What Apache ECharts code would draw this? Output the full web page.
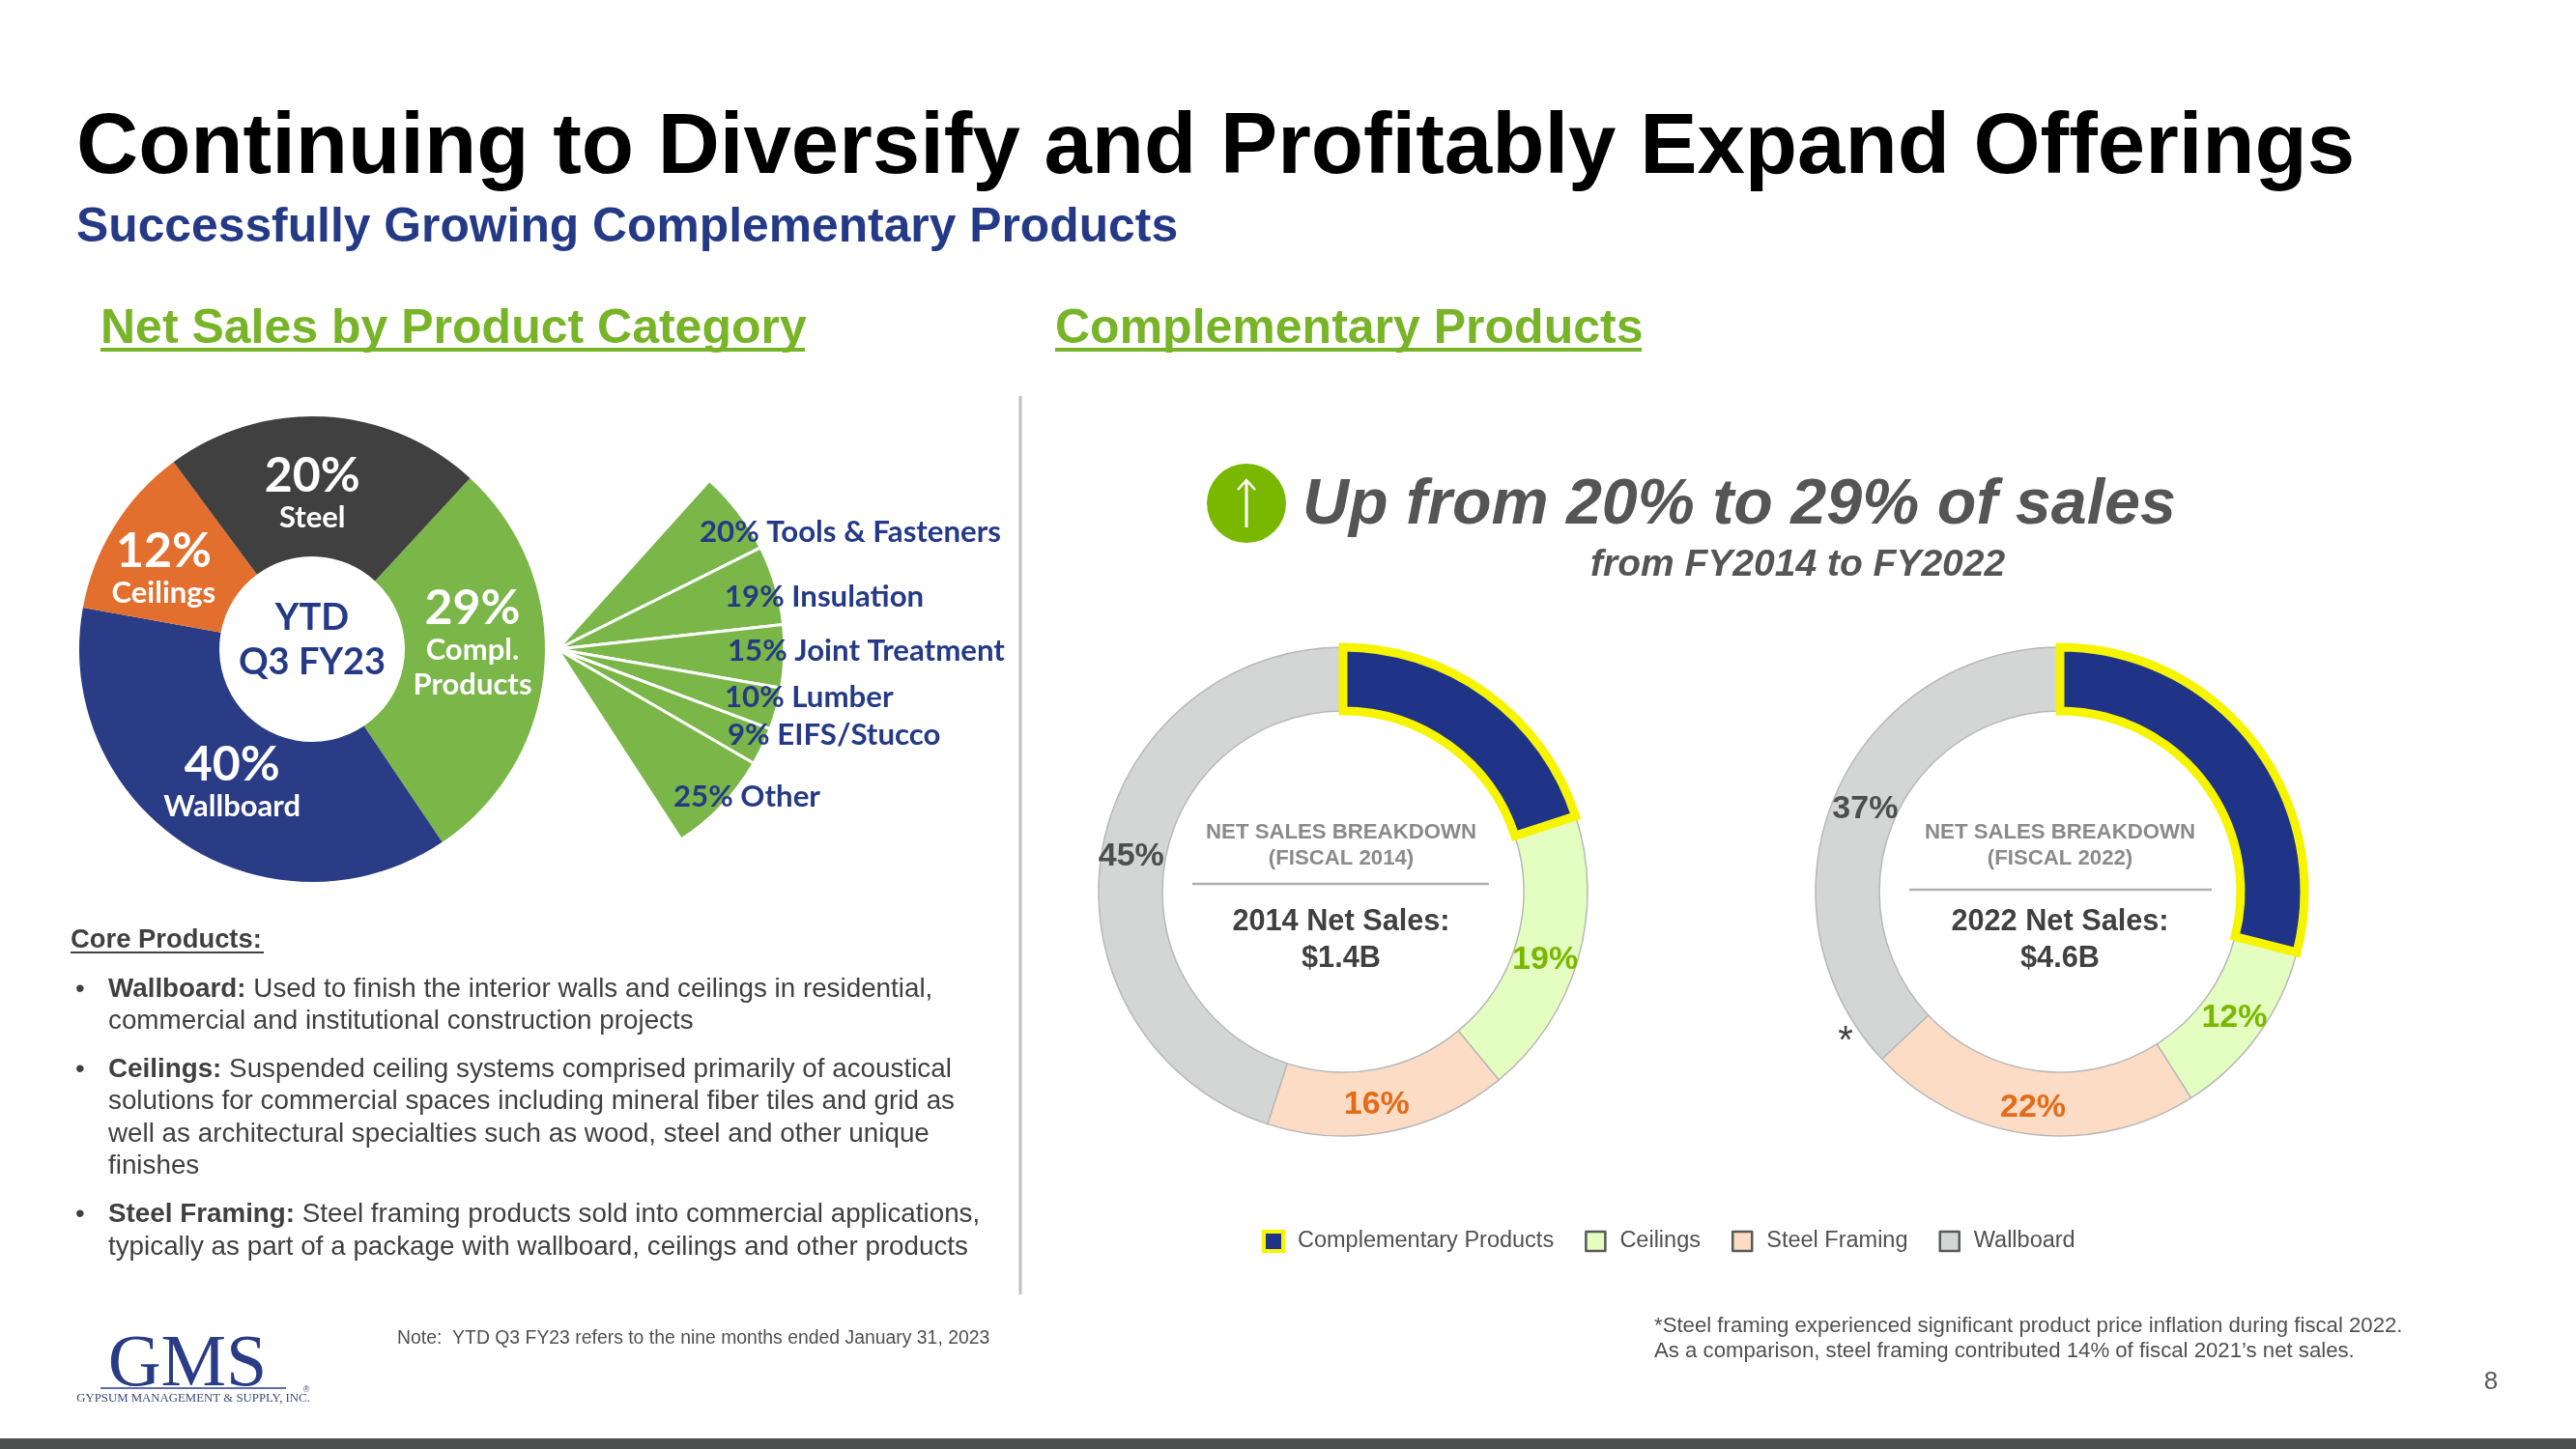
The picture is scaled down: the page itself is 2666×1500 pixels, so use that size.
<!DOCTYPE html>
<html><head><meta charset="utf-8">
<style>html,body{margin:0;padding:0;background:#fff}#c{width:2666px;height:1500px}</style>
<script src="https://cdn.jsdelivr.net/npm/echarts@6/dist/echarts.min.js"></script>
</head><body><div id="c"></div>
<script>
const categoryNames = ['Compl. Products', 'Wallboard', 'Ceilings', 'Steel'];
const categoryDrawnShare = [28.7, 37.3, 12, 22];
const categoryPrinted = ['29%', '40%', '12%', '20%'];
const categoryCaption = ['Compl.\nProducts', 'Wallboard', 'Ceilings', 'Steel'];
const categoryColors = ['#7ab648', '#2a3c85', '#e36f2f', '#404040'];

// Fan breakdown of complementary products
const complNames = ['Tools & Fasteners', 'Insulation', 'Joint Treatment', 'Lumber', 'EIFS/Stucco', 'Other'];
const complValues = [20, 19, 15, 10, 9, 25];

// Donuts: order puts Complementary last so its border paints on top
const donutNames = ['Ceilings', 'Steel Framing', 'Wallboard', 'Complementary Products'];
const fy2014 = [19, 16, 45, 20];
const fy2022 = [12, 22, 37, 29];
const donutColors = ['#e4fdc0', '#fcdcc5', '#d3d6d4', '#1f3387'];
const donutLabelColors = ['#7ab800', '#e36c1a', '#4d4f4e', '#ffffff'];
const legendOrder = ['Complementary Products', 'Ceilings', 'Steel Framing', 'Wallboard'];

const SANS = '"Liberation Sans", Arial, sans-serif';
const LATO = 'Lato, sans-serif';
const SERIF = '"Liberation Serif", serif';
const BLUE = '#253a87', GREEN = '#78b428', INK = '#404040';
const BODY = '27.8px ' + SANS;

function txt(text, x, y, font, fill, align) {
  return {type:'text', silent:true, style:{text, x, y, font, fill, textAlign:align||'left', textVerticalAlign:'middle'}};
}
function rule(x1, y1, x2, y2, stroke, lineWidth) {
  return {type:'line', silent:true, shape:{x1,y1,x2,y2}, style:{stroke, lineWidth}};
}
function body(text, x, y) {
  return {type:'text', silent:true, style:{text, x, y, textAlign:'left', textVerticalAlign:'middle', fill:INK,
    font:BODY, rich:{b:{font:'bold 27.8px '+SANS, fill:INK}, n:{font:BODY, fill:INK}}}};
}
function donut(values, cx, startAngle, offsets) {
  return {
    type:'pie', silent:true, animation:false, center:[cx,923], radius:[187,253],
    startAngle, avoidLabelOverlap:false, labelLine:{show:false},
    labelLayout:(p)=>({dx:offsets[p.dataIndex][0], dy:offsets[p.dataIndex][1]}),
    data: donutNames.map((name,i)=>({
      name, value:values[i],
      itemStyle: i===3 ? {color:donutColors[i], borderColor:'#f7f400', borderWidth:9, borderJoin:'miter'}
                       : {color:donutColors[i], borderColor:'#b8b8b8', borderWidth:1.5},
      label: {show:i!==3, position:'inside', formatter:'{c}%',
              fontFamily:'Liberation Sans', fontWeight:'bold', fontSize:34, color:donutLabelColors[i]}
    }))
  };
}

const catOffsets = [[-5,-19],[11,-6],[-8,8],[-9,10]];
const fanLabelPos = [[724,551],[750,618],[753,674],[750,722],[753,761],[697,825]];

const graphic = [
  txt('Continuing to Diversify and Profitably Expand Offerings', 79, 155, 'bold 88.8px '+SANS, '#000'),
  txt('Successfully Growing Complementary Products', 79, 236, 'bold 49.8px '+SANS, BLUE),
  txt('Net Sales by Product Category', 104, 341, 'bold 50px '+SANS, GREEN),
  rule(104,362,833,362,GREEN,4),
  txt('Complementary Products', 1092, 341, 'bold 50px '+SANS, GREEN),
  rule(1092,362,1699,362,GREEN,4),
  rule(1056,410,1056,1340,'#bfbfbf',3),
  txt('YTD', 323, 640, 'bold 38px '+LATO, BLUE, 'center'),
  txt('Q3 FY23', 323, 686, 'bold 38px '+LATO, BLUE, 'center'),
  // Up arrow badge
  {type:'circle', silent:true, shape:{cx:1290,cy:521,r:41}, style:{fill:'#7ab800'}},
  rule(1290,498,1290,546,'#fff',3),
  {type:'polyline', silent:true, shape:{points:[[1281,507],[1290,497],[1299,507]]}, style:{stroke:'#fff',lineWidth:2.5,fill:null}},
  txt('Up from 20% to 29% of sales', 1348, 524, 'italic bold 66.4px '+SANS, '#555555'),
  txt('from FY2014 to FY2022', 1646, 585, 'italic bold 39px '+SANS, '#555555'),
  // Donut centres
  txt('NET SALES BREAKDOWN', 1388, 862, 'bold 22.2px '+SANS, '#8a8a8a', 'center'),
  txt('(FISCAL 2014)', 1388, 889, 'bold 22.2px '+SANS, '#8a8a8a', 'center'),
  rule(1234,915,1541,915,'#b0b0b0',2.5),
  txt('2014 Net Sales:', 1388, 955, 'bold 30.7px '+SANS, INK, 'center'),
  txt('$1.4B', 1388, 993, 'bold 30.7px '+SANS, INK, 'center'),
  txt('NET SALES BREAKDOWN', 2132, 862, 'bold 22.2px '+SANS, '#8a8a8a', 'center'),
  txt('(FISCAL 2022)', 2132, 889, 'bold 22.2px '+SANS, '#8a8a8a', 'center'),
  rule(1976,921,2289,921,'#b0b0b0',2.5),
  txt('2022 Net Sales:', 2132, 955, 'bold 30.7px '+SANS, INK, 'center'),
  txt('$4.6B', 2132, 993, 'bold 30.7px '+SANS, INK, 'center'),
  txt('*', 1910, 1079, '40px '+SANS, INK, 'center'),
  // Left body text
  txt('Core Products:', 73, 973, 'bold 27.4px '+SANS, INK),
  rule(73,986,273,986,INK,2),
  txt('•', 78, 1024, BODY, INK),
  body('{b|Wallboard:}{n| Used to finish the interior walls and ceilings in residential,}', 112, 1024),
  txt('commercial and institutional construction projects', 112, 1057, BODY, INK),
  txt('•', 78, 1107, BODY, INK),
  body('{b|Ceilings:}{n| Suspended ceiling systems comprised primarily of acoustical}', 112, 1107),
  txt('solutions for commercial spaces including mineral fiber tiles and grid as', 112, 1140, BODY, INK),
  txt('well as architectural specialties such as wood, steel and other unique', 112, 1174, BODY, INK),
  txt('finishes', 112, 1207, BODY, INK),
  txt('•', 78, 1257, BODY, INK),
  body('{b|Steel Framing:}{n| Steel framing products sold into commercial applications,}', 112, 1257),
  txt('typically as part of a package with wallboard, ceilings and other products', 112, 1291, BODY, INK),
  // Footer
  txt('Note:  YTD Q3 FY23 refers to the nine months ended January 31, 2023', 411, 1386, '19.4px '+SANS, '#505050'),
  txt('*Steel framing experienced significant product price inflation during fiscal 2022.', 1712, 1373, '22.2px '+SANS, '#505050'),
  txt('As a comparison, steel framing contributed 14% of fiscal 2021’s net sales.', 1712, 1399, '22.2px '+SANS, '#505050'),
  txt('8', 2578, 1431, '26px '+SANS, '#595959', 'center'),
  // Logo
  txt('GMS', 194, 1414, '76px '+SERIF, '#2a3c85', 'center'),
  rule(104,1437,296,1437,'#2a3c85',1.5),
  txt('GYPSUM MANAGEMENT & SUPPLY, INC.', 200, 1448, '12.8px '+SERIF, '#3d4a7a', 'center'),
  txt('®', 317, 1439, '9px '+SANS, '#3d4a7a', 'center'),
  // Bottom band
  {type:'rect', silent:true, shape:{x:0,y:1489,width:2666,height:11}, style:{fill:'#4d4f4e'}}
];

const chart = echarts.init(document.getElementById('c'), null, {renderer:'canvas', width:2666, height:1500});
chart.setOption({
  backgroundColor:'#ffffff',
  animation:false,
  tooltip:{show:false},
  legend:{
    left:1301, top:1268, itemWidth:20, itemHeight:20, itemGap:32, selectedMode:false,
    textStyle:{fontFamily:'Liberation Sans', fontSize:23.5, color:'#505050', padding:[0,0,0,10]},
    data: legendOrder.map((name)=>{
      const i = donutNames.indexOf(name);
      return {name, icon:'rect', itemStyle:{color:donutColors[i],
        borderColor: i===3 ? '#f7f400' : '#595959', borderWidth: i===3 ? 4 : 2.5}};
    })
  },
  series:[
    donut(fy2014, 1390, 90-72, [[-5,8],[-7,2],[1,-1],[0,0]]),
    donut(fy2022, 2132, 90-104.4, [[0,0],[0,2],[3,3],[0,0]]),
    {
      type:'pie', silent:true, animation:false, center:[323,672], radius:[96,241], startAngle:47.3,
      avoidLabelOverlap:false, labelLine:{show:false},
      data: categoryNames.map((name,i)=>({name, value:categoryDrawnShare[i], itemStyle:{color:categoryColors[i]}})),
      label:{
        show:true, position:'inside', align:'center',
        formatter:(p)=>'{a|'+categoryPrinted[p.dataIndex]+'}\n'+categoryCaption[p.dataIndex].split('\n').map(s=>'{b|'+s+'}').join('\n'),
        rich:{
          a:{fontFamily:'Lato', fontWeight:'bold', fontSize:50, color:'#fff', lineHeight:50, align:'center'},
          b:{fontFamily:'Lato', fontWeight:'bold', fontSize:31, color:'#fff', lineHeight:36, align:'center'}
        }
      },
      labelLayout:(p)=>({dx:catOffsets[p.dataIndex][0], dy:catOffsets[p.dataIndex][1]})
    },
    {
      type:'pie', silent:true, animation:false, center:[577,672], radius:[0,235],
      startAngle:48, endAngle:-57, avoidLabelOverlap:false, labelLine:{show:false},
      itemStyle:{color:'#7ab648', borderColor:'#ffffff', borderWidth:3},
      data: complNames.map((name,i)=>({name, value:complValues[i]})),
      label:{show:true, position:'inside', formatter:'{c}% {b}', fontFamily:'Lato', fontWeight:'bold', fontSize:31.2, color:BLUE},
      labelLayout:(p)=>({x:fanLabelPos[p.dataIndex][0], y:fanLabelPos[p.dataIndex][1], align:'left', verticalAlign:'middle'})
    }
  ],
  graphic
});
</script></body></html>
